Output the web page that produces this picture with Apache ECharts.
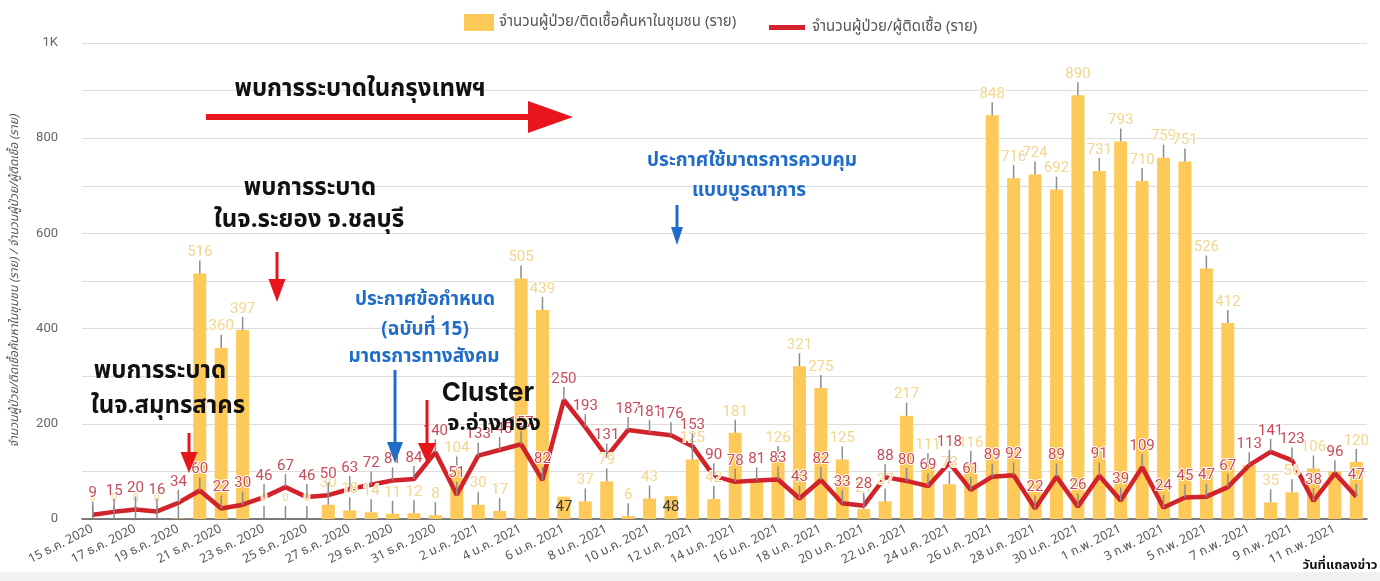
<!DOCTYPE html>
<html>
<head>
<meta charset="utf-8">
<script src="https://cdn.jsdelivr.net/npm/echarts@6/dist/echarts.min.js"></script>
<style>
html,body{margin:0;padding:0;background:#fff;}
#chart{width:1380px;height:581px;}
</style>
</head>
<body>
<div id="chart"></div>
<script>
// dates of the press briefing
var days = [
	'15 ธ.ค. 2020','16 ธ.ค. 2020','17 ธ.ค. 2020','18 ธ.ค. 2020','19 ธ.ค. 2020','20 ธ.ค. 2020',
	'21 ธ.ค. 2020','22 ธ.ค. 2020','23 ธ.ค. 2020','24 ธ.ค. 2020','25 ธ.ค. 2020','26 ธ.ค. 2020',
	'27 ธ.ค. 2020','28 ธ.ค. 2020','29 ธ.ค. 2020','30 ธ.ค. 2020','31 ธ.ค. 2020',
	'1 ม.ค. 2021','2 ม.ค. 2021','3 ม.ค. 2021','4 ม.ค. 2021','5 ม.ค. 2021','6 ม.ค. 2021',
	'7 ม.ค. 2021','8 ม.ค. 2021','9 ม.ค. 2021','10 ม.ค. 2021','11 ม.ค. 2021','12 ม.ค. 2021',
	'13 ม.ค. 2021','14 ม.ค. 2021','15 ม.ค. 2021','16 ม.ค. 2021','17 ม.ค. 2021','18 ม.ค. 2021',
	'19 ม.ค. 2021','20 ม.ค. 2021','21 ม.ค. 2021','22 ม.ค. 2021','23 ม.ค. 2021','24 ม.ค. 2021',
	'25 ม.ค. 2021','26 ม.ค. 2021','27 ม.ค. 2021','28 ม.ค. 2021','29 ม.ค. 2021','30 ม.ค. 2021',
	'31 ม.ค. 2021',
	'1 ก.พ. 2021','2 ก.พ. 2021','3 ก.พ. 2021','4 ก.พ. 2021','5 ก.พ. 2021','6 ก.พ. 2021',
	'7 ก.พ. 2021','8 ก.พ. 2021','9 ก.พ. 2021','10 ก.พ. 2021','11 ก.พ. 2021','12 ก.พ. 2021'
];
// community search cases (bars)
var communityCases = [
	0,0,0,0,1,516,360,397,0,0,0,30,18,14,11,12,8,
	104,30,17,505,439,47,37,79,6,43,48,125,42,181,78,126,321,275,125,21,37,217,111,73,116,
	848,716,724,692,890,731,
	793,710,759,751,526,412,113,35,56,106,100,120
];
// total new cases (line)
var totalCases = [
	9,15,20,16,34,60,22,30,46,67,46,50,63,72,81,84,140,
	51,133,145,157,82,250,193,131,187,181,176,153,90,78,81,83,43,82,33,28,88,80,69,118,61,
	89,92,22,89,26,91,
	39,109,24,45,47,67,113,141,123,38,96,47
];
var yTicks = [0,200,400,600,800,1000];

var barName = 'จำนวนผู้ป่วย/ติดเชื้อค้นหาในชุมชน (ราย)';
var lineName = 'จำนวนผู้ป่วย/ผู้ติดเชื้อ (ราย)';

// bar labels that sit inside the bar / are hidden behind other labels
var insideLabels = ['6 ม.ค. 2021','11 ม.ค. 2021'];
var hiddenLabels = ['15 ม.ค. 2021','7 ก.พ. 2021','11 ก.พ. 2021'];

var thaiFont = '"Noto Sans Thai","Noto Sans",sans-serif';
var chart = echarts.init(document.getElementById('chart'));

/**
 * labels with a short grey leader line above each point
 */
function pointLabels(values, color, isBar) {
	return {
		type : 'custom',
		silent : true,
		z : isBar ? 4 : 5,
		data : values.map(function(v, i) { return [i, v]; }),
		encode : { x : 0, y : 1 },
		renderItem : function(params, api) {
			var i = api.value(0);
			var v = api.value(1);
			var p = api.coord([i, v]);
			var day = days[i];
			if (isBar && hiddenLabels.indexOf(day) >= 0) {
				return null;
			}
			if (isBar && insideLabels.indexOf(day) >= 0) {
				return {
					type : 'text', x : p[0], y : p[1] + 11,
					style : { text : String(v), fill : '#3a3a3a', fontSize : 15,
						fontFamily : 'Roboto', align : 'center', verticalAlign : 'middle' }
				};
			}
			return {
				type : 'group',
				children : [ {
					type : 'line',
					shape : { x1 : p[0], y1 : p[1], x2 : p[0], y2 : p[1] - 13 },
					style : { stroke : '#8c8c8c', lineWidth : 1.5 }
				}, {
					type : 'text', x : p[0], y : p[1] - 21,
					style : { text : String(v), fill : color, fontSize : v < 2 ? 11 : 15,
						fontFamily : 'Roboto', align : 'center', verticalAlign : 'middle',
						stroke : '#fff', lineWidth : 2 }
				} ]
			};
		}
	};
}

function arrow(x1, y1, x2, y2, shaft, headW, headL, color) {
	// arrow along x or y axis only
	var pts;
	if (y1 === y2) {
		var hx = x2 - headL;
		pts = [[x1, y1 - shaft / 2], [hx, y1 - shaft / 2], [hx, y1 - headW / 2], [x2, y1],
			[hx, y1 + headW / 2], [hx, y1 + shaft / 2], [x1, y1 + shaft / 2]];
	} else {
		var hy = y2 - headL;
		pts = [[x1 - shaft / 2, y1], [x1 - shaft / 2, hy], [x1 - headW / 2, hy], [x1, y2],
			[x1 + headW / 2, hy], [x1 + shaft / 2, hy], [x1 + shaft / 2, y1]];
	}
	return { type : 'polygon', z : 100, shape : { points : pts }, style : { fill : color } };
}

function note(text, x, y, size, color, family) {
	return {
		type : 'text', z : 100, x : x, y : y,
		style : { text : text, fill : color, fontSize : size, fontWeight : 'bold',
			fontFamily : family || thaiFont, align : 'center', verticalAlign : 'middle' }
	};
}

var red = '#E8161C';
var blue = '#1F6CC9';

var option = {
	animation : false,
	backgroundColor : '#fff',
	grid : { left : 82, width : 1285, top : 43, bottom : 62 },
	legend : [ {
		data : [ { name : barName, icon : 'rect' } ],
		left : 459, top : 9, itemWidth : 30, itemHeight : 17, itemGap : 10,
		textStyle : { color : '#555', fontSize : 15, fontFamily : thaiFont }
	}, {
		data : [ { name : lineName, icon : 'rect' } ],
		left : 764, top : 15, itemWidth : 36, itemHeight : 5,
		textStyle : { color : '#555', fontSize : 15, fontFamily : thaiFont, padding : [0, 0, 0, 2] }
	} ],
	xAxis : [ {
		type : 'category',
		data : days,
		axisTick : { show : false },
		axisLine : { lineStyle : { color : '#555', width : 1.5 } },
		axisLabel : { interval : 1, rotate : 27, color : '#555', fontSize : 12.5,
			fontFamily : thaiFont, margin : 10 }
	} ],
	yAxis : [ {
		type : 'value',
		min : 0, max : 1000, interval : 100,
		name : 'จำนวนผู้ป่วย/ติดเชื้อค้นหาในชุมชน (ราย) / จำนวนผู้ป่วย/ผู้ติดเชื้อ (ราย)',
		nameLocation : 'middle', nameGap : 60,
		nameTextStyle : { color : '#555', fontSize : 12, fontStyle : 'italic', fontFamily : thaiFont },
		axisLabel : {
			color : '#666', fontSize : 13, fontFamily : 'Roboto', margin : 24,
			formatter : function(v) {
				if (yTicks.indexOf(v) < 0) return '';
				return v === 1000 ? '1K' : String(v);
			}
		},
		splitLine : { lineStyle : { color : '#dcdcdc', width : 1.2 } }
	} ],
	series : [ {
		name : barName,
		type : 'bar',
		data : communityCases,
		barWidth : 13,
		z : 2,
		itemStyle : { color : '#FDC958' }
	}, {
		name : lineName,
		type : 'line',
		data : totalCases,
		symbol : 'none',
		z : 3,
		lineStyle : { color : '#D2232B', width : 4.5 },
		itemStyle : { color : '#D2232B' }
	},
	pointLabels(communityCases, '#F3D68E', true),
	pointLabels(totalCases, '#C84B5A', false)
	],
	graphic : [
		{ type : 'rect', z : 90, shape : { x : 0, y : 572, width : 1380, height : 9 }, style : { fill : '#f1f1f1' } },
		note('วันที่แถลงข่าว', 1340, 566, 13, '#111'),
		note('พบการระบาดในกรุงเทพฯ', 360, 91, 24, '#111'),
		arrow(206, 117, 573, 117, 6, 32, 45, red),
		note('พบการระบาด', 310, 190, 24, '#111'),
		note('ในจ.ระยอง จ.ชลบุรี', 309, 222, 24, '#111'),
		arrow(277, 252, 277, 302, 3, 17, 23, red),
		note('พบการระบาด', 160, 373, 24, '#111'),
		note('ในจ.สมุทรสาคร', 168, 408, 24, '#111'),
		arrow(189, 433, 189, 473, 3, 17, 21, red),
		note('ประกาศข้อกำหนด', 425, 301, 19, blue),
		note('(ฉบับที่ 15)', 425, 331, 19, blue),
		note('มาตรการทางสังคม', 424, 358, 19, blue),
		arrow(395, 370, 395, 463, 3, 16, 21, blue),
		arrow(427, 400, 427, 463, 3, 18, 20, red),
		note('Cluster', 488, 393, 26, '#111', 'Inter, "Open Sans", sans-serif'),
		note('จ.อ่างทอง', 494, 426, 22, '#111'),
		note('ประกาศใช้มาตรการควบคุม', 752, 162, 19, blue),
		note('แบบบูรณาการ', 749, 192, 19, blue),
		arrow(677, 205, 677, 245, 3, 12, 18, blue)
	]
};
chart.setOption(option);
</script>
</body>
</html>
